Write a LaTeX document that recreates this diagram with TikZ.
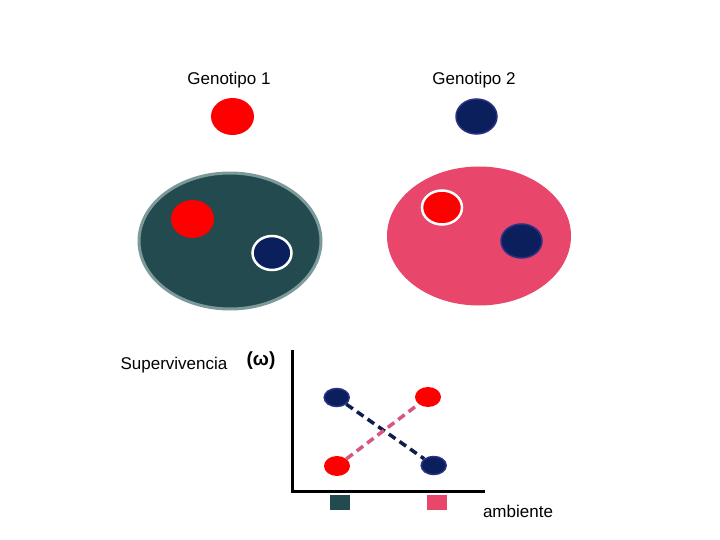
\documentclass[tikz,border=0pt]{standalone}
\usepackage{fontspec}
\setmainfont{Liberation Sans}
\usetikzlibrary{shapes.geometric}
\definecolor{myred}{HTML}{FF0000}
\definecolor{navyfill}{HTML}{0A1F5C}
\definecolor{navyedge}{HTML}{2B3285}
\definecolor{darkgreen}{HTML}{234A4E}
\definecolor{greenedge}{HTML}{7D9A9A}
\definecolor{pinkfill}{HTML}{E8466A}
\definecolor{pinkline}{HTML}{D6587C}
\definecolor{navyline}{HTML}{0B1F4A}
\begin{document}
\begin{tikzpicture}[x=1pt,y=-1pt,
  lbl/.style={font=\fontsize{17}{20}\selectfont, inner sep=0pt},
  dashline/.style={line width=3.5pt, dash pattern=on 8pt off 5pt},
  navypt/.style={ellipse, fill=navyfill, draw=navyedge, line width=1.5pt, minimum width=25pt, minimum height=18pt, inner sep=0pt},
  redpt/.style={ellipse, fill=myred, minimum width=26pt, minimum height=20pt, inner sep=0pt},
  envsq/.style={minimum width=20pt, minimum height=15pt, inner sep=0pt}]
\useasboundingbox (0,0) rectangle (720,540);
% labels
\node[lbl] (g1) at (229,80) {Genotipo 1};
\node[lbl] (g2) at (474,80) {Genotipo 2};
% top markers
\path[fill=myred] (232.5,116.5) ellipse [x radius=21.5, y radius=18.5];
\path[fill=navyfill, draw=navyedge, line width=1.5pt] (476.5,116.5) ellipse [x radius=20.5, y radius=17.5];
% environment 1
\path[fill=darkgreen, draw=greenedge, line width=3pt] (230,241) ellipse [x radius=91, y radius=68];
\path[fill=myred] (192.5,219) ellipse [x radius=21.5, y radius=19];
\path[fill=navyfill, draw=white, line width=2.5pt] (272,253) ellipse [x radius=19.5, y radius=17];
% environment 2
\path[fill=pinkfill] (479,236) ellipse [x radius=92, y radius=69.5];
\path[fill=myred, draw=white, line width=2.5pt] (442,207.5) ellipse [x radius=20, y radius=17];
\path[fill=navyfill, draw=navyedge, line width=1.5pt] (521.5,241) ellipse [x radius=20.5, y radius=17];
% graph labels
\node[lbl] (sup) at (174,365) {Supervivencia};
\node[lbl, font=\fontsize{19}{22}\selectfont] (om) at (261,361) {\textbf{(ω)}};
\node[lbl] (amb) at (518,511) {ambiente};
% axes
\coordinate (ytop) at (292.3,350);
\coordinate (orig) at (292.3,491.7);
\coordinate (xend) at (485,491.7);
\draw[line width=3pt] (ytop) -- (orig) -- (xend);
% points
\node[navypt] (n1) at (336.7,397.5) {};
\node[redpt] (r2) at (428,397) {};
\node[redpt] (r1) at (337,466) {};
\node[navypt] (n2) at (433.7,465.5) {};
\draw[dashline, navyline] (n1) -- (n2);
\draw[dashline, pinkline] (r1) -- (r2);
% environment squares
\node[envsq, fill=darkgreen] (sq1) at (340,502.5) {};
\node[envsq, fill=pinkfill] (sq2) at (436.7,502.5) {};
\end{tikzpicture}
\end{document}
